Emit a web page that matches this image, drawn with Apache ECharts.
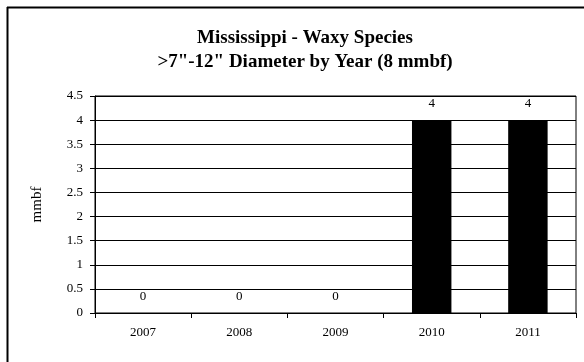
<!DOCTYPE html>
<html>
<head>
<meta charset="utf-8">
<script src="https://cdn.jsdelivr.net/npm/echarts@6/dist/echarts.min.js"></script>
<style>html,body{margin:0;padding:0;background:#fff;}#c{width:584px;height:362px;}</style>
</head>
<body>
<div id="c"></div>
<script>
const categories = ['2007', '2008', '2009', '2010', '2011'];
const values = [0, 0, 0, 4, 4];
const titleLines = ['Mississippi - Waxy Species', '>7"-12" Diameter by Year (8 mmbf)'];
const yAxisName = 'mmbf';

const chart = echarts.init(document.getElementById('c'), null, {renderer: 'canvas'});
const serif = '"Liberation Serif", "Times New Roman", serif';
chart.setOption({
  animation: false,
  backgroundColor: '#fff',
  title: {
    text: titleLines.join('\n'),
    left: 300, top: 21, textAlign: 'center',
    textStyle: {fontFamily: serif, fontWeight: 'bold', fontSize: 19, lineHeight: 24, color: '#000'}
  },
  graphic: [
    {type: 'line', shape: {x1: 7.5, y1: 7, x2: 7.5, y2: 362}, style: {stroke: '#000', lineWidth: 2}},
    {type: 'line', shape: {x1: 7, y1: 7.5, x2: 584, y2: 7.5}, style: {stroke: '#000', lineWidth: 2}}
  ],
  grid: {left: 95, top: 96, right: 8, bottom: 49, show: true, borderColor: '#000', borderWidth: 1, backgroundColor: 'transparent'},
  xAxis: {
    type: 'category', data: categories,
    axisLine: {lineStyle: {color: '#000', width: 1}},
    axisTick: {show: true, length: 5, lineStyle: {color: '#000'}},
    axisLabel: {fontFamily: serif, fontSize: 13, color: '#000', margin: 13}
  },
  yAxis: {
    type: 'value', min: 0, max: 4.5, interval: 0.5,
    name: yAxisName, nameLocation: 'middle', nameGap: 50,
    nameTextStyle: {fontFamily: serif, fontSize: 15, color: '#000'},
    axisLine: {show: true, lineStyle: {color: '#000', width: 1}},
    axisTick: {show: true, length: 5, lineStyle: {color: '#000'}},
    axisLabel: {fontFamily: serif, fontSize: 13, color: '#000', margin: 12},
    splitLine: {show: true, lineStyle: {color: '#000', width: 1}}
  },
  series: [{
    type: 'bar', data: values, barWidth: '41%',
    itemStyle: {color: '#000'},
    label: {show: true, position: 'top', distance: 10, fontFamily: serif, fontSize: 13, color: '#000'}
  }]
});
</script>
</body>
</html>
